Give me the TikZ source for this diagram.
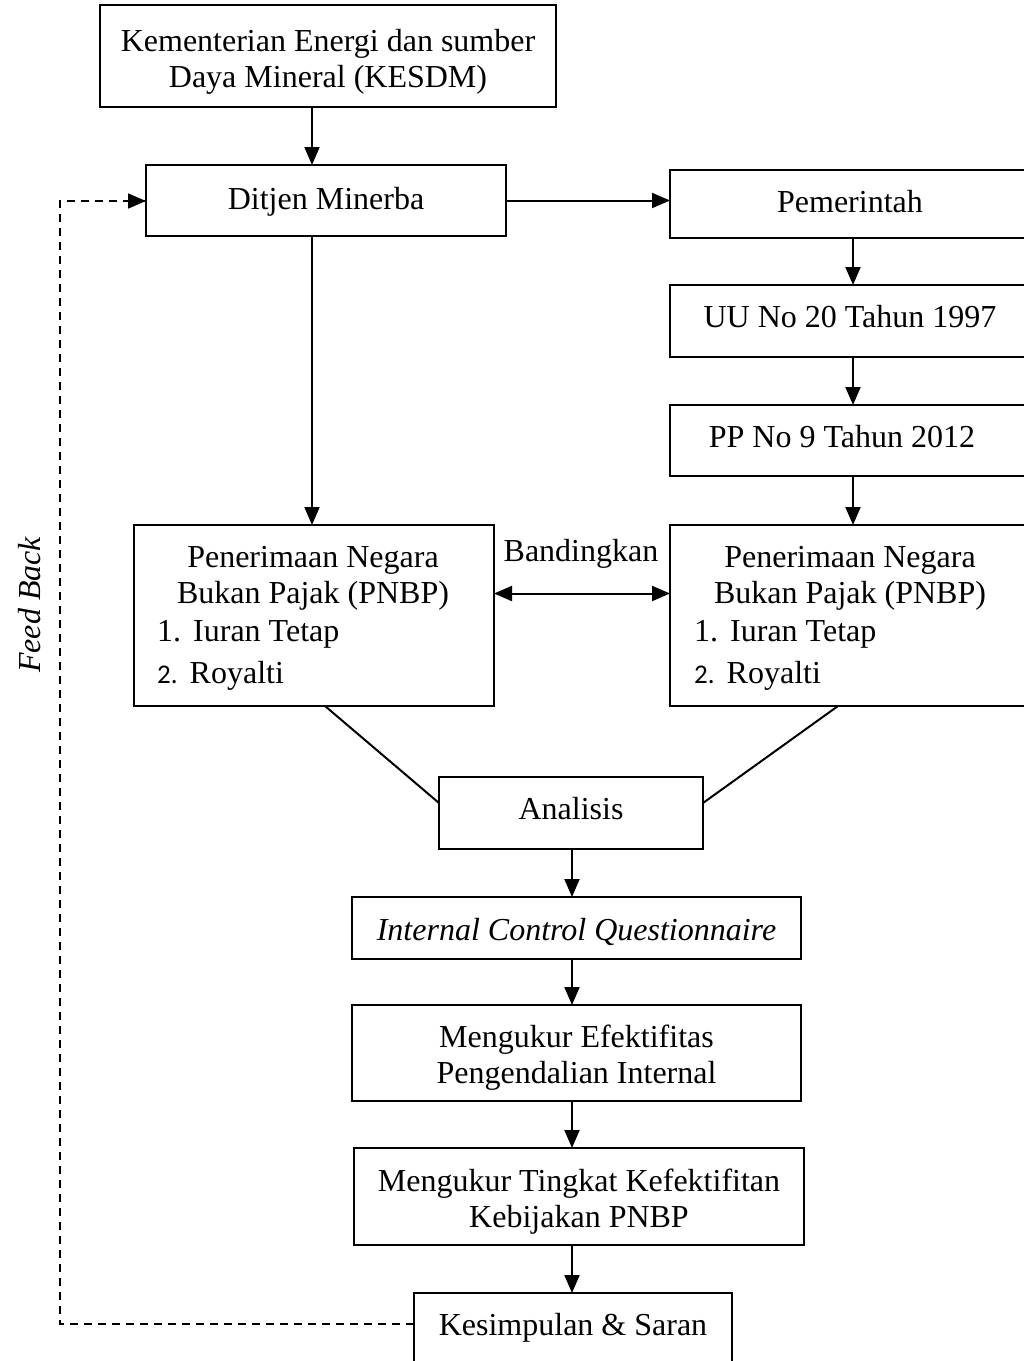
\documentclass[tikz,border=0pt]{standalone}
\usepackage{fontspec}
\setmainfont{Liberation Serif}
\newfontfamily\numfont{Carlito}
\usetikzlibrary{calc,arrows.meta}
\begin{document}
\begin{tikzpicture}[x=1pt,y=-1pt,
  box/.style={draw,line width=2pt,inner sep=0pt,outer sep=0pt},
  txt/.style={inner sep=0pt,font=\fontsize{32}{36}\selectfont},
  arr/.style={line width=2pt,-{Triangle[length=18pt,width=15pt]}},
  darr/.style={line width=2pt,{Triangle[length=18pt,width=15pt]}-{Triangle[length=18pt,width=15pt]}},
  ln/.style={line width=2pt},
  fb/.style={line width=1.7pt,dash pattern=on 8pt off 6pt}]
\useasboundingbox (0,0) rectangle (1024,1361);
\clip (0,0) rectangle (1024,1361);

% boxes
\node[box,minimum width=456pt,minimum height=102pt] (kesdm) at (328,56) {};
\node[box,minimum width=360pt,minimum height=71pt] (ditjen) at (326,200.5) {};
\node[box,minimum width=360pt,minimum height=68pt] (pem) at (850,204) {};
\node[box,minimum width=360pt,minimum height=72pt] (uu) at (850,321) {};
\node[box,minimum width=360pt,minimum height=71pt] (pp) at (850,440.5) {};
\node[box,minimum width=360pt,minimum height=181pt] (pnbpL) at (314,615.5) {};
\node[box,minimum width=360pt,minimum height=181pt] (pnbpR) at (850,615.5) {};
\node[box,minimum width=264pt,minimum height=72pt] (anal) at (571,813) {};
\node[box,minimum width=449pt,minimum height=62pt] (icq) at (576.5,928) {};
\node[box,minimum width=449pt,minimum height=96pt] (mef) at (576.5,1053) {};
\node[box,minimum width=450pt,minimum height=97pt] (mtk) at (579,1196.5) {};
\node[box,minimum width=318pt,minimum height=77pt] (kes) at (573,1331.5) {};

% texts
\node[txt,anchor=base] (t1) at (328,51) {Kementerian Energi dan sumber};
\node[txt,anchor=base] (t2) at (328,87) {Daya Mineral (KESDM)};
\node[txt,anchor=base] (t3) at (326,209) {Ditjen Minerba};
\node[txt,anchor=base] (t4) at (850,212) {Pemerintah};
\node[txt,anchor=base] (t5) at (850,327) {UU No 20 Tahun 1997};
\node[txt,anchor=base] (t6) at (842,447) {PP No 9 Tahun 2012};
\node[txt,anchor=base] (t7) at (313,567) {Penerimaan Negara};
\node[txt,anchor=base] (t8) at (313,603) {Bukan Pajak (PNBP)};
\node[txt,anchor=base west] (t9) at (157,641) {1.\hspace{12pt}Iuran Tetap};
\node[txt,anchor=base west] (t10) at (157,683) {{\numfont\fontsize{27}{30}\selectfont 2.}\hspace{12pt}Royalti};
\node[txt,anchor=base] (t11) at (850,567) {Penerimaan Negara};
\node[txt,anchor=base] (t12) at (850,603) {Bukan Pajak (PNBP)};
\node[txt,anchor=base west] (t13) at (694,641) {1.\hspace{12pt}Iuran Tetap};
\node[txt,anchor=base west] (t14) at (694,683) {{\numfont\fontsize{27}{30}\selectfont 2.}\hspace{12pt}Royalti};
\node[txt,anchor=base] (t15) at (581,561) {Bandingkan};
\node[txt,anchor=base] (t16) at (571,819) {Analisis};
\node[txt,anchor=base] (t17) at (576.5,940) {\itshape Internal Control Questionnaire};
\node[txt,anchor=base] (t18) at (576.5,1047) {Mengukur Efektifitas};
\node[txt,anchor=base] (t19) at (576.5,1083) {Pengendalian Internal};
\node[txt,anchor=base] (t20) at (579,1191) {Mengukur Tingkat Kefektifitan};
\node[txt,anchor=base] (t21) at (579,1227) {Kebijakan PNBP};
\node[txt,anchor=base] (t22) at (573,1335) {Kesimpulan \& Saran};
\node[txt,rotate=90,anchor=center] (t23) at (30,605) {\itshape Feed Back};

% connectors
\draw[arr] (312,0 |- kesdm.south) -- (312,0 |- ditjen.north);
\draw[arr] (ditjen.east) -- (pem.west |- ditjen.east);
\draw[arr] (853,0 |- pem.south) -- (853,0 |- uu.north);
\draw[arr] (853,0 |- uu.south) -- (853,0 |- pp.north);
\draw[arr] (853,0 |- pp.south) -- (853,0 |- pnbpR.north);
\draw[arr] (312,0 |- ditjen.south) -- (312,0 |- pnbpL.north);
\draw[darr] ($(pnbpL.east)+(0,-22)$) -- ($(pnbpR.west)+(0,-22)$);
\draw[ln] (325,0 |- pnbpL.south) -- ($(anal.west)+(0,-10)$);
\draw[ln] (838,0 |- pnbpR.south) -- ($(anal.east)+(0,-10)$);
\draw[arr] (572,0 |- anal.south) -- (572,0 |- icq.north);
\draw[arr] (572,0 |- icq.south) -- (572,0 |- mef.north);
\draw[arr] (572,0 |- mef.south) -- (572,0 |- mtk.north);
\draw[arr] (572,0 |- mtk.south) -- (572,0 |- kes.north);
\coordinate (fbA) at (60,1324);
\coordinate (fbB) at (60,201);
\draw[fb] ($(kes.west)+(0,-7.5)$) -- (fbA) -- (fbB) -- (fbB -| ditjen.west) coordinate (fbC);
\draw[line width=1.7pt,-{Triangle[length=18pt,width=15pt]}] ($(fbC)+(-2,0)$) -- (fbC);
\end{tikzpicture}
\end{document}
